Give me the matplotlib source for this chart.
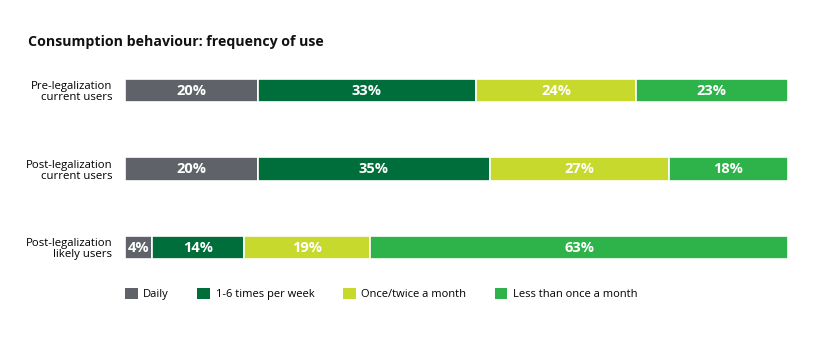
import numpy as np
import matplotlib.pyplot as plt
from matplotlib.patches import Patch

plt.rcParams['font.family'] = ['Open Sans', 'DejaVu Sans']

groups = ['Pre-legalization\ncurrent users',
          'Post-legalization\ncurrent users',
          'Post-legalization\nlikely users']
categories = ['Daily', '1-6 times per week', 'Once/twice a month', 'Less than once a month']
shares = np.array([
    [20, 33, 24, 23],
    [20, 35, 27, 18],
    [4, 14, 19, 63],
])
COLORS = ['#5f6369', '#006e3a', '#c7d92d', '#2eb34b']

fig = plt.figure(figsize=(8.2, 3.43), dpi=100)
ax = fig.add_axes([125 / 820, 1 - 286.75 / 343, 663 / 820, 235.5 / 343])

y = np.arange(len(groups))
left = np.zeros(len(groups))
for j, cat in enumerate(categories):
    vals = shares[:, j]
    ax.barh(y, vals, left=left, height=0.293, color=COLORS[j],
            edgecolor='white', linewidth=1.2, label=cat)
    for yi, (l, v) in enumerate(zip(left, vals)):
        ax.text(l + v / 2, yi, f'{v}%', ha='center', va='center',
                color='white', fontsize=10.5, fontweight='bold')
    left += vals

ax.set_xlim(0, 100)
ax.set_ylim(2.5, -0.5)
ax.set_yticks(y)
ax.set_yticklabels(groups, fontsize=8.2, ha='right', linespacing=1.05)
ax.tick_params(axis='y', length=0, pad=9)
ax.set_xticks([])
for s in ax.spines.values():
    s.set_visible(False)

fig.text(28 / 820, 1 - 42 / 343, 'Consumption behaviour: frequency of use',
         fontsize=10.2, fontweight='bold', va='center', ha='left', color='#111111')

handles = [Patch(facecolor=c, edgecolor='none') for c in COLORS]
fig.legend(handles, categories, loc='center left', ncol=4,
           bbox_to_anchor=(115 / 820, 1 - 294 / 343), frameon=False,
           fontsize=8, handlelength=1.15, handleheight=1.15,
           handletextpad=0.5, columnspacing=2.55)

fig.savefig('out.png', dpi=100)
